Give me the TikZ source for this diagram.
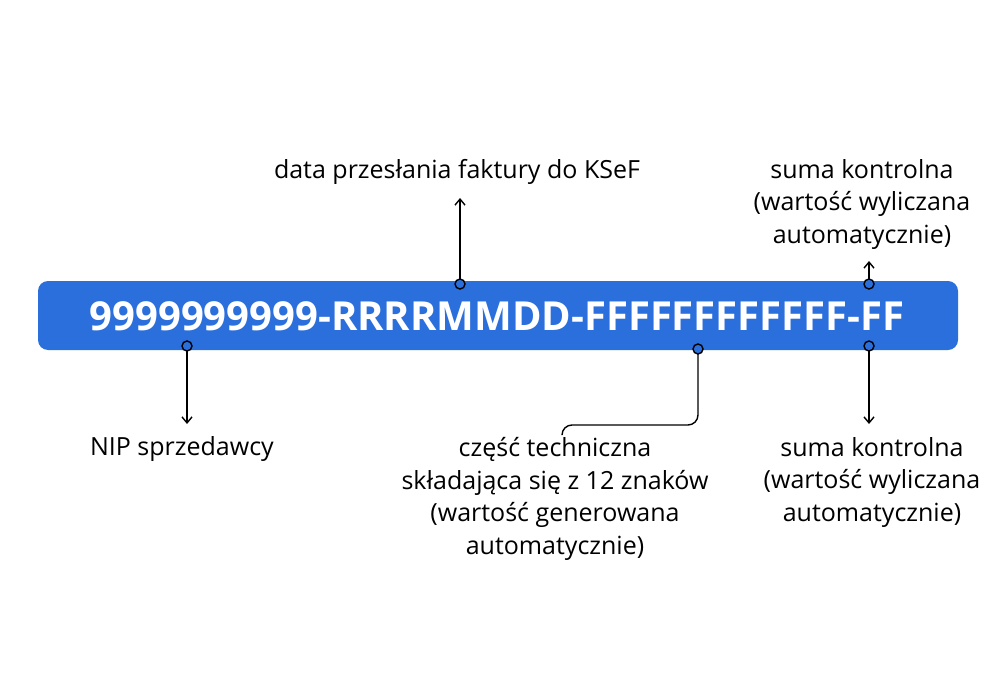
\documentclass[tikz,border=0pt]{standalone}
\usepackage{fontspec}
\setmainfont{Open Sans}
\usepackage{tikz}
\usetikzlibrary{positioning}
\usetikzlibrary{arrows.meta}
\definecolor{ksefblue}{HTML}{2B6FDC}
\tikzset{
    ksef diagram/.style={
            x=0.5pt,y=-0.5pt,
            arrow/.style={-{Straight Barb[length=3pt,width=5pt]},line width=0.7pt},
            leader/.style={line width=0.7pt,rounded corners=5pt},
            dot/.style={circle,draw=black,fill=ksefblue,line width=0.7pt,inner sep=0pt,minimum size=5pt},
            label/.style={font=\fontsize{12.5}{16.3}\selectfont,align=center,inner sep=0pt}
        }
    }
\begin{document}
\begin{tikzpicture}[ksef diagram]
    \useasboundingbox (0,0) rectangle (1000,700);
    \fill [ksefblue, rounded corners=5pt] (38,281) rectangle (958,350);
    \node [text=white, font=\fontsize{20}{24}\selectfont\bfseries] (number) at (497,316) {9999999999-RRRRMMDD-FFFFFFFFFFFF-FF};

    \coordinate (nip) at (187,346);
    \coordinate (date) at (460,284);
    \coordinate (tech) at (698,349);
    \coordinate (sumtop) at (869,284);
    \coordinate (sumbot) at (869,346);

    \node [label] (nipL) at (182,449) {NIP sprzedawcy};
    \node [label] (dateL) at (457,172) {data przesłania faktury do KSeF};
    \node [label, anchor=north] (techL) at (555,437) {część techniczna\\składająca się z 12 znaków\\(wartość generowana\\automatycznie)};
    \node [label, anchor=south] (sumtopL) at (862,250) {suma kontrolna\\(wartość wyliczana\\automatycznie)};
    \node [label, anchor=north] (sumbotL) at (872,437) {suma kontrolna\\(wartość wyliczana\\automatycznie)};

    \draw [arrow] (nip) -- (187,424);
    \draw [arrow] (date) -- (460,198);
    \draw [arrow] (sumtop) -- (869,261);
    \draw [arrow] (sumbot) -- (869,424);
    \draw [leader] (tech) -- (698,425) -- (562,425) -- (562,434);

    \node [dot] at (nip) {};
    \node [dot] at (date) {};
    \node [dot] at (tech) {};
    \node [dot] at (sumtop) {};
    \node [dot] at (sumbot) {};
\end{tikzpicture}
\end{document}
